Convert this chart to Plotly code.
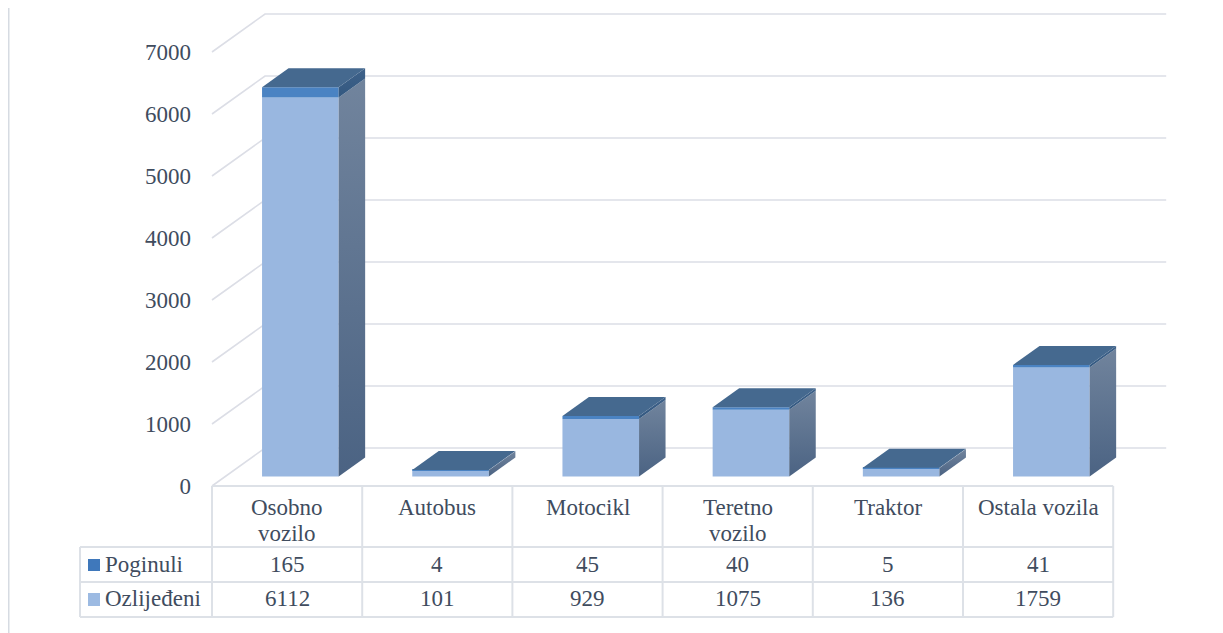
import plotly.graph_objects as go

categories = ["Osobno vozilo", "Autobus", "Motocikl", "Teretno vozilo", "Traktor", "Ostala vozila"]
header_lines = [["Osobno", "vozilo"], ["Autobus"], ["Motocikl"], ["Teretno", "vozilo"], ["Traktor"], ["Ostala vozila"]]
poginuli = [165, 4, 45, 40, 5, 41]
ozlijedeni = [6112, 101, 929, 1075, 136, 1759]
series_names = ["Poginuli", "Ozlijeđeni"]
y_ticks = [0, 1000, 2000, 3000, 4000, 5000, 6000, 7000]

OFF = 8
W, H = 1223 - OFF, 633 - OFF

def fx(px):
    return (px - OFF) / W

def fy(py):
    return 1 - (py - OFF) / H

PX_PER_CAT = 150.2
X0_PX = 212.0
Y0_PX = 486.0
PX_PER_UNIT = 0.062
DOM_LEFT_PX = 200.0

def px_to_x(px):
    return (px - X0_PX) / PX_PER_CAT - 0.5

def py_to_v(py):
    return (Y0_PX - py) / PX_PER_UNIT

x_range = [px_to_x(DOM_LEFT_PX), px_to_x(1223)]
y_range = [py_to_v(633), py_to_v(OFF)]

DX = 53.0 / PX_PER_CAT
DY = 38.0 / PX_PER_UNIT
F0, F1 = 0.25, 0.75
BW = 0.51

TXT = "#404c5e"
GRID = "#dcdee6"
BORDER = "#dde1e7"
C_OZL = "#99b7e0"
C_POG = "#4a83c3"
C_TOP = "#45698f"
FONT = "Liberation Serif"
FS = 23

fig = go.Figure()

gx, gy = [], []
xl = -0.5
xr = len(categories) - 0.5
for v in y_ticks:
    gx += [xl, xl + DX, xr + DX, None]
    gy += [v, v + DY, v + DY, None]
fig.add_trace(go.Scatter(x=gx, y=gy, mode="lines", line=dict(color=GRID, width=1.6),
                         hoverinfo="skip", showlegend=False, zorder=0))

xs = [i + F0 * DX for i in range(len(categories))]
base0 = F0 * DY

fig.add_trace(go.Bar(x=xs, y=ozlijedeni, base=[base0] * len(categories), width=BW,
                     marker=dict(color=C_OZL, line=dict(width=0)), name=series_names[1],
                     showlegend=False, zorder=1))
fig.add_trace(go.Bar(x=xs, y=poginuli, base=[base0 + o for o in ozlijedeni], width=BW,
                     marker=dict(color=C_POG, line=dict(width=0)), name=series_names[0],
                     showlegend=False, zorder=1))

bdx = (F1 - F0) * DX
bdy = (F1 - F0) * DY
side_ozl = [[0, "#4b6383"], [1, "#71849d"]]
side_pog = [[0, "#335880"], [1, "#3e6189"]]
for i, (o, p) in enumerate(zip(ozlijedeni, poginuli)):
    left = xs[i] - BW / 2
    right = xs[i] + BW / 2
    b = base0
    m = base0 + o
    t = base0 + o + p
    for (y0, y1, cs) in [(b, m, side_ozl), (m, t, side_pog)]:
        fig.add_trace(go.Scatter(x=[right, right + bdx, right + bdx, right, right],
                                 y=[y0, y0 + bdy, y1 + bdy, y1, y0],
                                 mode="lines", fill="toself",
                                 fillgradient=dict(type="vertical", colorscale=cs),
                                 line=dict(width=0, color=cs[0][1]), hoverinfo="skip",
                                 showlegend=False, zorder=2))
    fig.add_trace(go.Scatter(x=[left, right, right + bdx, left + bdx, left],
                             y=[t, t, t + bdy, t + bdy, t],
                             mode="lines", fill="toself", fillcolor=C_TOP,
                             line=dict(width=0, color=C_TOP), hoverinfo="skip",
                             showlegend=False, zorder=2))

T_L, T_R = 80.0, X0_PX + PX_PER_CAT * len(categories)
T_TOP, R1, R2, T_BOT = 486.0, 547.0, 582.0, 617.0
shapes = []

def hline(x0, x1, y):
    shapes.append(dict(type="line", xref="paper", yref="paper", x0=fx(x0), x1=fx(x1),
                       y0=fy(y), y1=fy(y), line=dict(color=BORDER, width=2)))

def vline(x, y0, y1):
    shapes.append(dict(type="line", xref="paper", yref="paper", x0=fx(x), x1=fx(x),
                       y0=fy(y0), y1=fy(y1), line=dict(color=BORDER, width=2)))

hline(X0_PX, T_R, T_TOP)
for yy in (R1, R2, T_BOT):
    hline(T_L, T_R, yy)
vline(T_L, R1, T_BOT)
for k in range(len(categories) + 1):
    vline(X0_PX + k * PX_PER_CAT, T_TOP, T_BOT)

shapes.append(dict(type="line", xref="paper", yref="paper", x0=0.5 / W, x1=0.5 / W, y0=0, y1=1,
                   line=dict(color="#d6dbe2", width=2)))

annotations = []
for i, lines in enumerate(header_lines):
    ys = [507] if len(lines) == 1 else [507, 533]
    for ln, yy in zip(lines, ys):
        annotations.append(dict(x=i, xref="x", y=fy(yy), yref="paper", text=ln, showarrow=False,
                                xanchor="center", yanchor="middle",
                                font=dict(family=FONT, size=FS, color=TXT)))

row_y = [564, 598]
for vals, yy in zip([poginuli, ozlijedeni], row_y):
    for i, v in enumerate(vals):
        annotations.append(dict(x=i, xref="x", y=fy(yy), yref="paper", text=str(v), showarrow=False,
                                xanchor="center", yanchor="middle",
                                font=dict(family=FONT, size=FS, color=TXT)))

sq_cols = ["#3f78bb", "#9cbae2"]
sq_y = [(559, 571), (593, 606)]
for name, col, (y0, y1), yy in zip(series_names, sq_cols, sq_y, row_y):
    shapes.append(dict(type="rect", xref="paper", yref="paper", x0=fx(88), x1=fx(100),
                       y0=fy(y1), y1=fy(y0), fillcolor=col, line=dict(width=0)))
    annotations.append(dict(x=fx(103), xref="paper", y=fy(yy), yref="paper", text=name,
                            showarrow=False, xanchor="left", yanchor="middle",
                            font=dict(family=FONT, size=FS, color=TXT)))

fig.update_layout(
    width=W, height=H,
    margin=dict(l=0, r=0, t=0, b=0),
    paper_bgcolor="white", plot_bgcolor="rgba(0,0,0,0)",
    barmode="overlay",
    xaxis=dict(domain=[fx(DOM_LEFT_PX), 1], range=x_range, visible=False, fixedrange=True),
    yaxis=dict(domain=[0, 1], range=y_range, tickvals=y_ticks, showgrid=False, zeroline=False,
               showline=False, ticks="", ticklabelstandoff=8,
               tickfont=dict(family=FONT, size=FS, color=TXT), fixedrange=True),
    shapes=shapes,
    annotations=annotations,
    font=dict(family=FONT, color=TXT),
)

fig.write_html("out.html")
